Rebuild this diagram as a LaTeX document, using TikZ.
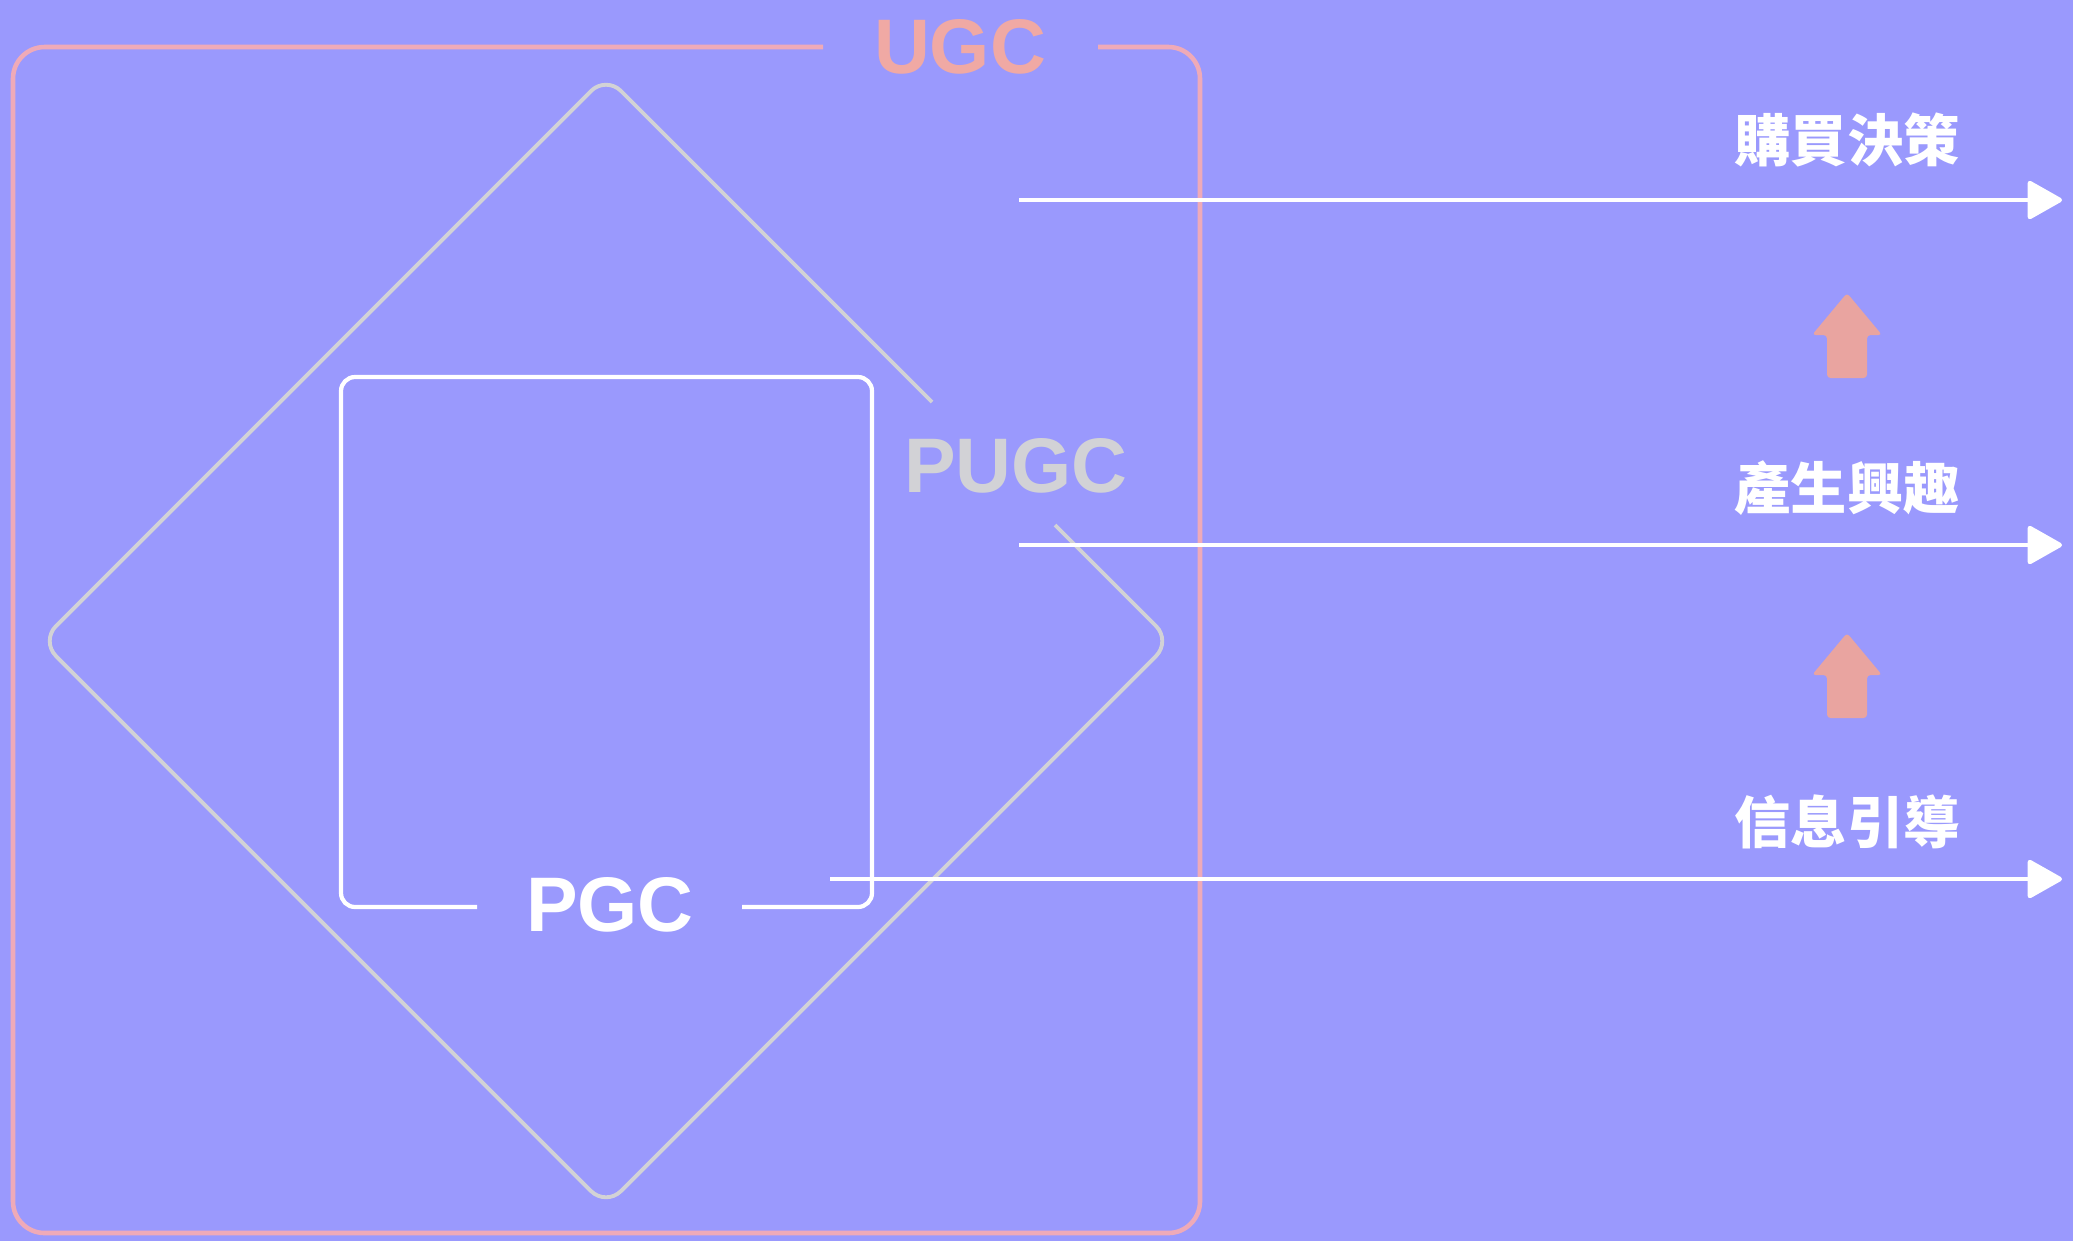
\documentclass[tikz,border=0pt]{standalone}
\usepackage{fontspec}
\setmainfont{Liberation Sans}
\newfontfamily\cjk{Noto Sans CJK TC}
\usetikzlibrary{arrows.meta}
\definecolor{ugcbg}{HTML}{9A99FD}
\definecolor{ugcpink}{HTML}{F0A9A4}
\definecolor{ugcline}{HTML}{EFAAB8}
\definecolor{ugcgray}{HTML}{D2D2D6}
\definecolor{ugcarrow}{HTML}{E9A4A0}

\begin{document}
\begin{tikzpicture}[x=0.01cm, y=-0.01cm,
    tag/.style={font=\bfseries\fontsize{22}{22}\selectfont, inner sep=0pt},
    stage/.style={font=\cjk\bfseries\fontsize{16}{16}\selectfont,
                  text=white, inner sep=0pt},
    flow/.style={white, line width=1.3pt,
                 -{Triangle[length=10.5pt, width=11.5pt, round]}},
    uparr/.style={fill=ugcarrow, rounded corners=1pt}
  ]
    % background fixes the page size
    \fill[ugcbg] (0,0) rectangle (2073,1241);

    % labels of the three layers
    \node[tag, text=ugcpink] (ugc) at (960,47) {UGC};
    \node[tag, text=ugcgray] (pugc) at (1016,466) {PUGC};
    \node[tag, text=white] (pgc) at (610,905) {PGC};

    % UGC frame, open round its label
    \draw[ugcline, line width=1.3pt, rounded corners=9pt]
      (823,47) -- (13,47) -- (13,1233) -- (1200,1233) -- (1200,47) -- (1098,47);
    % PUGC diamond, open round its label
    \draw[ugcgray, line width=1.1pt, rounded corners=6pt]
      (1055,525) -- (1171,641) -- (606,1206) -- (41,641) -- (606,76) -- (932,402);
    % PGC square, open round its label
    \draw[white, line width=1.2pt, rounded corners=4pt]
      (477,907) -- (341,907) -- (341,377) -- (872,377) -- (872,907) -- (742,907);

    % stages
    \node[stage] (decide) at (1847,140) {購買決策};
    \node[stage] (interest) at (1847,488) {產生興趣};
    \node[stage] (inform) at (1847,822) {信息引導};

    \coordinate (d0) at (1019,200);
    \coordinate (d1) at (2062,200);
    \coordinate (i0) at (1019,545);
    \coordinate (i1) at (2062,545);
    \coordinate (f0) at (830,879);
    \coordinate (f1) at (2062,879);
    \draw[flow] (d0) -- (d1);
    \draw[flow] (i0) -- (i1);
    \draw[flow] (f0) -- (f1);

    % pink block arrows between the stages
    \foreach \t in {293,633}
      \fill[uparr] (1847,\t) -- (1882,\t+42) -- (1867,\t+42) -- (1867,\t+85)
        -- (1827,\t+85) -- (1827,\t+42) -- (1812,\t+42) -- cycle;
  \end{tikzpicture}
\end{document}
